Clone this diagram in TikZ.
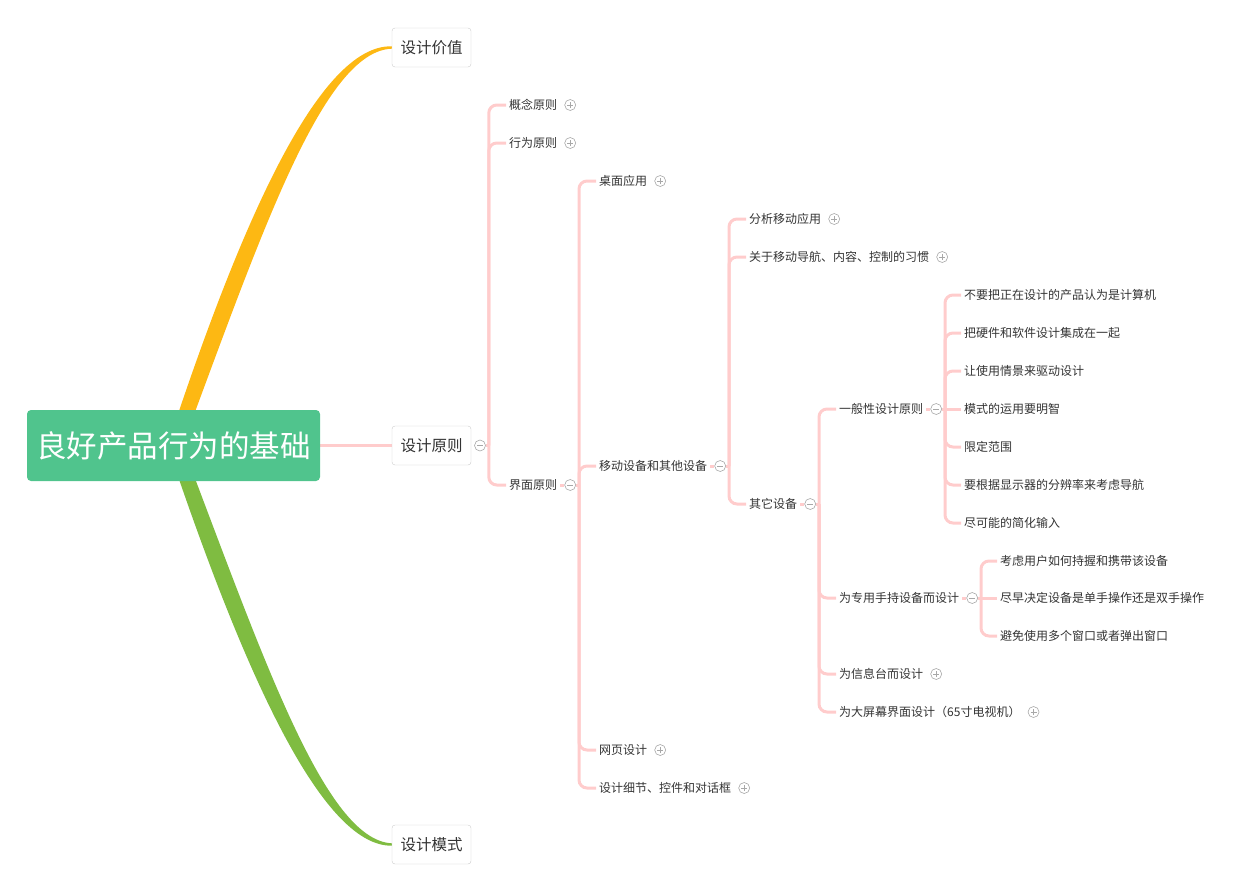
\documentclass[tikz,border=0pt]{standalone}
\usepackage{fontspec}
\setmainfont{Noto Sans CJK SC}
\usepackage{tikz}
\usetikzlibrary{positioning,calc,backgrounds}

\definecolor{rootgreen}{HTML}{50C48D}
\definecolor{valyellow}{HTML}{FDB813}
\definecolor{patgreen}{HTML}{7FBC41}
\definecolor{linkpink}{HTML}{FFCCCC}
\definecolor{txtgray}{HTML}{333333}
\definecolor{boxgray}{HTML}{CCCCCC}
\definecolor{btngray}{HTML}{A8A8A8}

\begin{document}
\begin{tikzpicture}[x=1pt,y=-1pt,
  rootbox/.style={fill=rootgreen, text=white, rounded corners=4pt, minimum width=293pt, minimum height=71pt, inner sep=0pt, font=\fontsize{30.5}{36}\selectfont},
  branch/.style={draw=boxgray, fill=white, rounded corners=3pt, text=txtgray, minimum width=79pt, minimum height=39pt, inner sep=0pt, font=\fontsize{15.5}{18}\selectfont},
  topic/.style={anchor=west, text=txtgray, inner xsep=3pt, inner ysep=2pt, yshift=-1pt, font=\fontsize{12}{14}\selectfont},
  link/.style={draw=linkpink, line width=3pt, rounded corners=8pt},
  btn/.style={circle, draw=btngray, fill=white, line width=0.6pt, minimum size=11pt, inner sep=0pt},
  plusbtn/.style={btn, path picture={
    \draw[btngray, line width=0.6pt]
      ([xshift=-3pt]path picture bounding box.center) -- ([xshift=3pt]path picture bounding box.center)
      ([yshift=-3pt]path picture bounding box.center) -- ([yshift=3pt]path picture bounding box.center);}},
  minusbtn/.style={btn, path picture={
    \draw[btngray, line width=0.6pt]
      ([xshift=-3pt]path picture bounding box.center) -- ([xshift=3pt]path picture bounding box.center);}}
]
\useasboundingbox (0,0) rectangle (1240,895);

\node[rootbox] (root) at (173.5,445.5) {良好产品行为的基础};
\node[branch] (v1) at (431.5,47.5) {设计价值};
\node[branch] (p1) at (431.5,445.5) {设计原则};
\node[branch] (m1) at (431.5,844.5) {设计模式};
\node[minusbtn, right=3pt of p1] (p1m) {};
\coordinate (b1) at ($(p1m.east)+(3,0)$);

\node[topic] (a1) at (506,104) {概念原则};
\node[topic] (a2) at (506,142) {行为原则};
\node[topic] (a3) at (506,484) {界面原则};
\node[plusbtn, right=4pt of a1] (a1p) {};
\node[plusbtn, right=4pt of a2] (a2p) {};
\node[minusbtn, right=4pt of a3] (a3m) {};
\coordinate (b2) at ($(a3m.east)+(3,0)$);

\node[topic] (c1) at (596,180) {桌面应用};
\node[topic] (c2) at (596,465) {移动设备和其他设备};
\node[topic] (c3) at (596,749) {网页设计};
\node[topic] (c4) at (596,787) {设计细节、控件和对话框};
\node[plusbtn, right=4pt of c1] (c1p) {};
\node[minusbtn, right=4pt of c2] (c2m) {};
\node[plusbtn, right=4pt of c3] (c3p) {};
\node[plusbtn, right=4pt of c4] (c4p) {};
\coordinate (b3) at ($(c2m.east)+(3,0)$);

\node[topic] (d1) at (746,218) {分析移动应用};
\node[topic] (d2) at (746,256) {关于移动导航、内容、控制的习惯};
\node[topic] (d3) at (746,503) {其它设备};
\node[plusbtn, right=4pt of d1] (d1p) {};
\node[plusbtn, right=4pt of d2] (d2p) {};
\node[minusbtn, right=4pt of d3] (d3m) {};
\coordinate (b4) at ($(d3m.east)+(3,0)$);

\node[topic] (e1) at (836,408) {一般性设计原则};
\node[topic] (e2) at (836,597) {为专用手持设备而设计};
\node[topic] (e3) at (836,673) {为信息台而设计};
\node[topic] (e4) at (836,711) {为大屏幕界面设计（65寸电视机）};
\node[minusbtn, right=4pt of e1] (e1m) {};
\node[minusbtn, right=4pt of e2] (e2m) {};
\node[plusbtn, right=4pt of e3] (e3p) {};
\node[plusbtn, right=4pt of e4] (e4p) {};
\coordinate (b5) at ($(e1m.east)+(3,0)$);
\coordinate (b6) at ($(e2m.east)+(3,0)$);

\node[topic] (f1) at (961,294) {不要把正在设计的产品认为是计算机};
\node[topic] (f2) at (961,332) {把硬件和软件设计集成在一起};
\node[topic] (f3) at (961,370) {让使用情景来驱动设计};
\node[topic] (f4) at (961,408) {模式的运用要明智};
\node[topic] (f5) at (961,446) {限定范围};
\node[topic] (f6) at (961,484) {要根据显示器的分辨率来考虑导航};
\node[topic] (f7) at (961,522) {尽可能的简化输入};

\node[topic] (g1) at (997,560) {考虑用户如何持握和携带该设备};
\node[topic] (g2) at (997,597) {尽早决定设备是单手操作还是双手操作};
\node[topic] (g3) at (997,635) {避免使用多个窗口或者弹出窗口};

\begin{scope}[on background layer]
\fill[valyellow] ($(root.center)+(-6,0)$) .. controls (239,228) and (318,44.5) .. ($(v1.west)+(0,-1.2)$)
  -- ($(v1.west)+(0,1.2)$) .. controls (323,51) and (261,235) .. ($(root.center)+(9,0)$) -- cycle;
\fill[patgreen] ($(root.center)+(-6,0)$) .. controls (241,664) and (320,846.5) .. ($(m1.west)+(0,1.2)$)
  -- ($(m1.west)+(0,-1.2)$) .. controls (325,840) and (263,657) .. ($(root.center)+(9,0)$) -- cycle;
\draw[linkpink, line width=3.5pt] (root.east) -- (p1.west);
\end{scope}

\draw[link] (p1m.east) -- (b1);
\draw[link] (b1) |- (a1.west);
\draw[link] (b1) |- (a2.west);
\draw[link] (b1) |- (a3.west);

\draw[link] (a3.east) -- (a3m.west);
\draw[link] (a3m.east) -- (b2);
\draw[link] (b2) |- (c1.west);
\draw[link] (b2) |- (c2.west);
\draw[link] (b2) |- (c3.west);
\draw[link] (b2) |- (c4.west);

\draw[link] (c2.east) -- (c2m.west);
\draw[link] (c2m.east) -- (b3);
\draw[link] (b3) |- (d1.west);
\draw[link] (b3) |- (d2.west);
\draw[link] (b3) |- (d3.west);

\draw[link] (d3.east) -- (d3m.west);
\draw[link] (d3m.east) -- (b4);
\draw[link] (b4) |- (e1.west);
\draw[link] (b4) |- (e2.west);
\draw[link] (b4) |- (e3.west);
\draw[link] (b4) |- (e4.west);

\draw[link] (e1.east) -- (e1m.west);
\draw[link] (e1m.east) -- (b5);
\draw[link] (b5) |- (f1.west);
\draw[link] (b5) |- (f2.west);
\draw[link] (b5) |- (f3.west);
\draw[link] (b5) -- (f4.west);
\draw[link] (b5) |- (f5.west);
\draw[link] (b5) |- (f6.west);
\draw[link] (b5) |- (f7.west);

\draw[link] (e2.east) -- (e2m.west);
\draw[link] (e2m.east) -- (b6);
\draw[link] (b6) |- (g1.west);
\draw[link] (b6) -- (g2.west);
\draw[link] (b6) |- (g3.west);
\end{tikzpicture}
\end{document}
